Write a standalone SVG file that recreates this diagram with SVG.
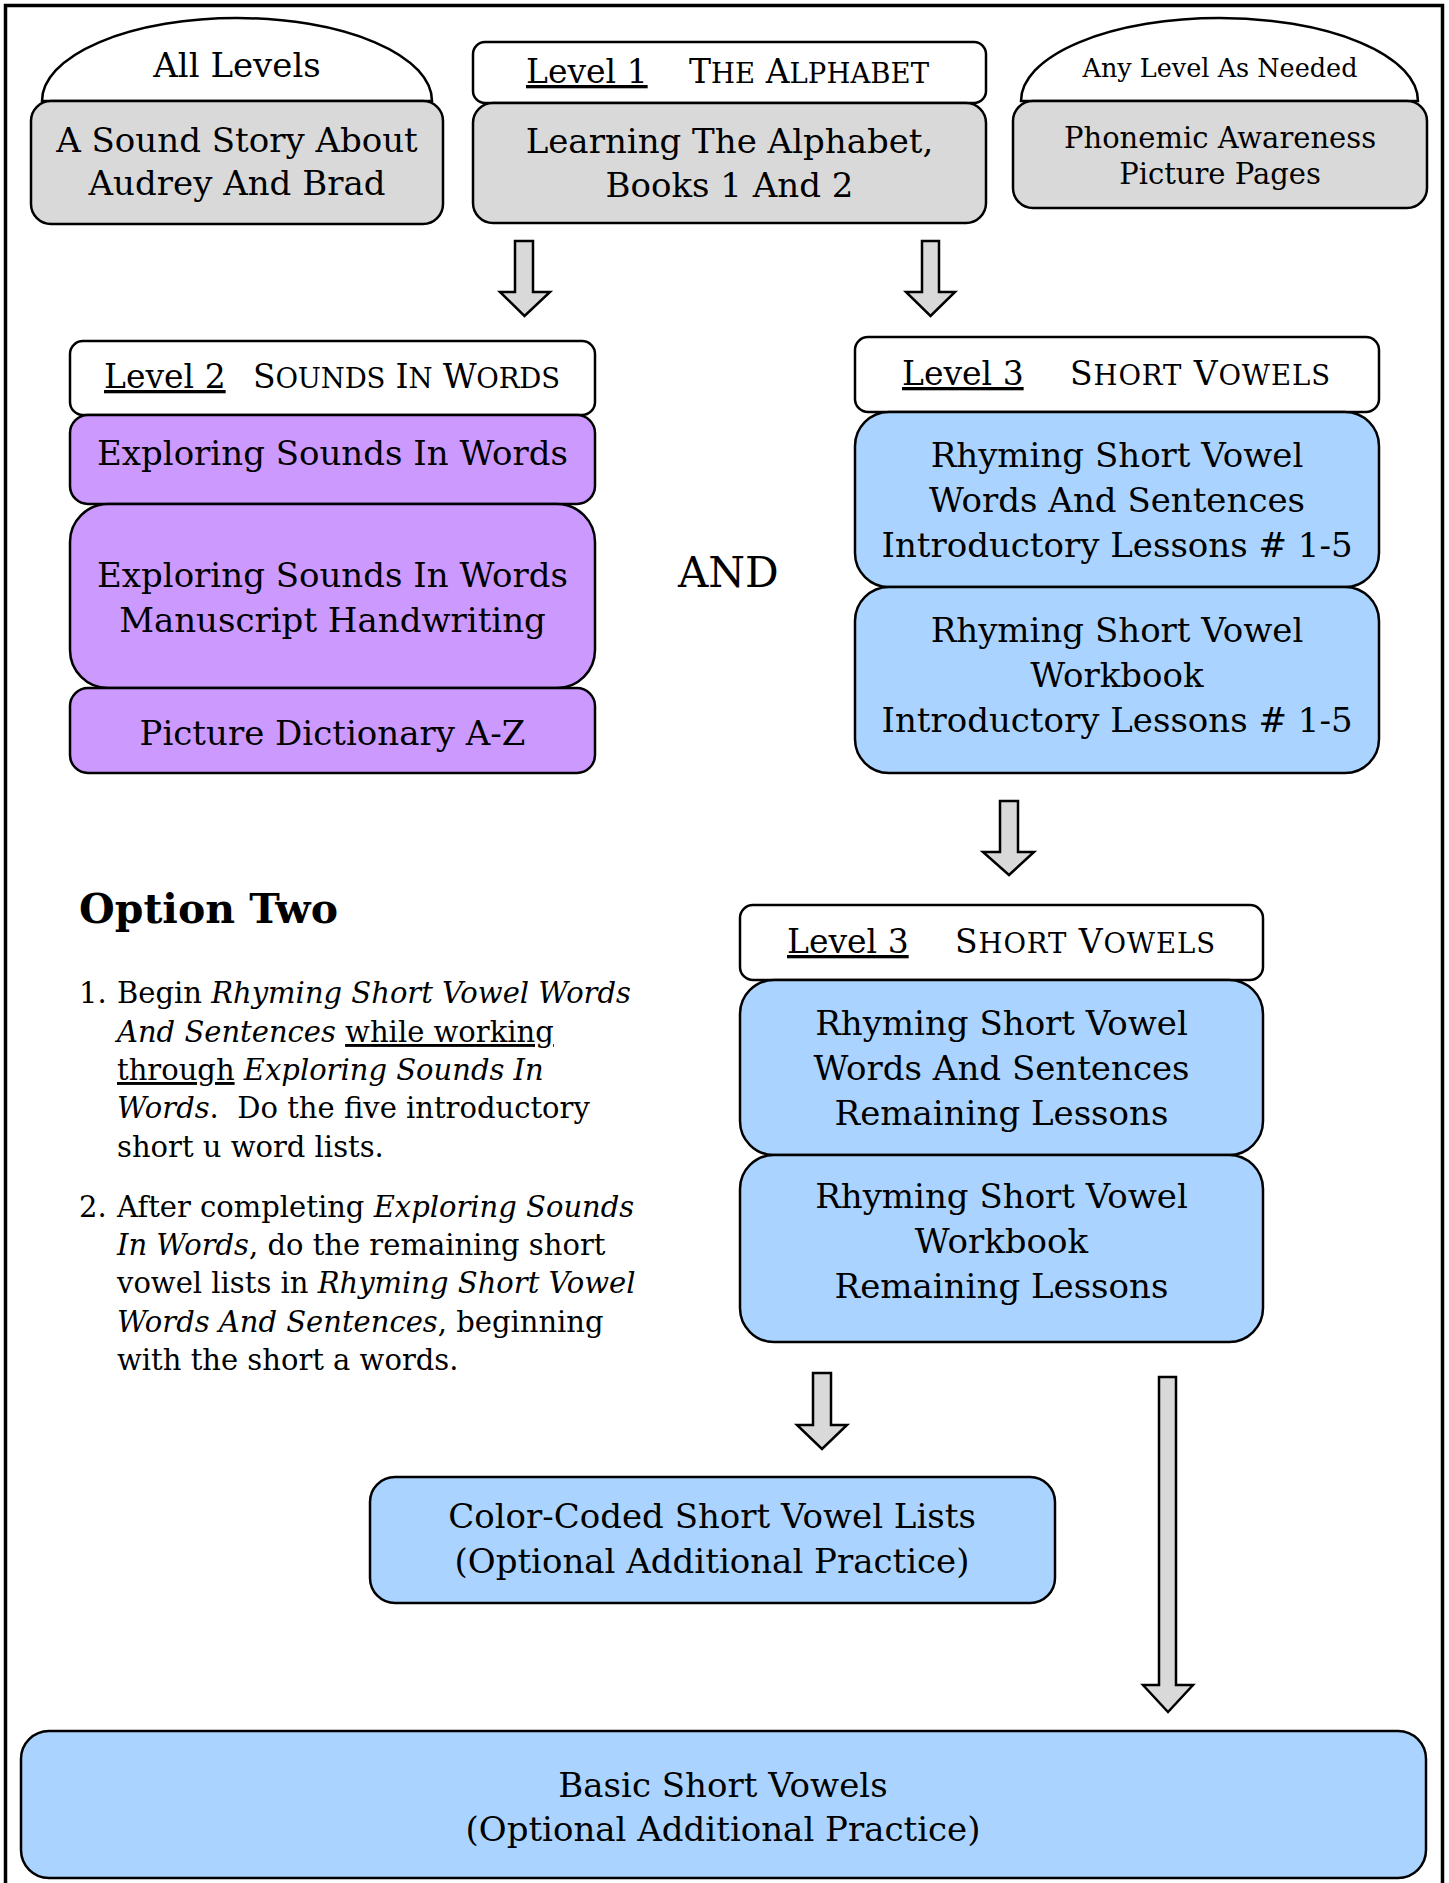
<svg xmlns="http://www.w3.org/2000/svg" width="1449" height="1883" viewBox="0 0 1449 1883">
<style>
.t{font-family:"DejaVu Serif","Liberation Serif",serif;fill:#000;}
.c{text-anchor:middle;}
.b{font-size:34px;}
.hd{font-size:33px;}
.sc{font-size:27.5px;}
.gray{fill:#D9D9D9;stroke:#000;stroke-width:2.5;}
.white{fill:#fff;stroke:#000;stroke-width:2.5;}
.purple{fill:#CC99FF;stroke:#000;stroke-width:2.5;}
.blue{fill:#AAD4FF;stroke:#000;stroke-width:2.5;}
.arrow{fill:#D9D9D9;stroke:#000;stroke-width:2.5;stroke-linejoin:miter;}
.ul{text-decoration:underline;}
.it{font-style:italic;}
.body{font-size:29px;}
</style>
<rect x="0" y="0" width="1449" height="1883" fill="#fff"/>
<rect id="frame" x="5.5" y="5.5" width="1437" height="1900" fill="none" stroke="#000" stroke-width="3.5"/>

<g id="all-levels">
  <path class="white" d="M42,101 A195,83 0 0 1 432,101 Z"/>
  <text class="t c" x="237" y="77" font-size="34">All Levels</text>
  <rect class="gray" x="31" y="101" width="412" height="123" rx="20"/>
  <text class="t c b" x="237" y="152">A Sound Story About</text>
  <text class="t c b" x="237" y="195">Audrey And Brad</text>
</g>

<g id="level1">
  <rect class="white" x="473" y="42" width="513" height="61" rx="12"/>
  <text class="t hd" x="526" y="83"><tspan class="ul">Level 1</tspan></text>
  <text class="t hd" x="689" y="83" textLength="240" lengthAdjust="spacing">T<tspan class="sc">HE</tspan> A<tspan class="sc">LPHABET</tspan></text>
  <rect class="gray" x="473" y="103" width="513" height="120" rx="20"/>
  <text class="t c b" x="729.5" y="153">Learning The Alphabet,</text>
  <text class="t c b" x="729.5" y="197">Books 1 And 2</text>
</g>

<g id="any-level">
  <path class="white" d="M1021,101 A198.5,83 0 0 1 1418,101 Z"/>
  <text class="t c" x="1220" y="77" font-size="25.5">Any Level As Needed</text>
  <rect class="gray" x="1013" y="101" width="414" height="107" rx="20"/>
  <text class="t c" x="1220" y="148" font-size="29">Phonemic Awareness</text>
  <text class="t c" x="1220" y="184" font-size="29">Picture Pages</text>
</g>

<g id="level2">
  <rect class="white" x="70" y="341" width="525" height="74" rx="13"/>
  <text class="t hd" x="104" y="388"><tspan class="ul">Level 2</tspan></text>
  <text class="t hd" x="253" y="388" textLength="307" lengthAdjust="spacing">S<tspan class="sc">OUNDS</tspan> I<tspan class="sc">N</tspan> W<tspan class="sc">ORDS</tspan></text>
  <rect class="purple" x="70" y="415" width="525" height="89" rx="18"/>
  <text class="t c b" x="332.5" y="465">Exploring Sounds In Words</text>
  <rect class="purple" x="70" y="504" width="525" height="184" rx="38"/>
  <text class="t c b" x="332.5" y="587">Exploring Sounds In Words</text>
  <text class="t c b" x="332.5" y="632">Manuscript Handwriting</text>
  <rect class="purple" x="70" y="688" width="525" height="85" rx="18"/>
  <text class="t c b" x="332.5" y="745">Picture Dictionary A-Z</text>
</g>

<g id="and-label">
  <text class="t" x="678" y="587" font-size="42">AND</text>
</g>

<g id="level3-intro">
  <rect class="white" x="855" y="337" width="524" height="75" rx="13"/>
  <text class="t hd" x="902" y="385"><tspan class="ul">Level 3</tspan></text>
  <text class="t hd" x="1070" y="385" textLength="260" lengthAdjust="spacing">S<tspan class="sc">HORT</tspan> V<tspan class="sc">OWELS</tspan></text>
  <rect class="blue" x="855" y="412" width="524" height="175" rx="34"/>
  <text class="t c b" x="1117" y="467">Rhyming Short Vowel</text>
  <text class="t c b" x="1117" y="512">Words And Sentences</text>
  <text class="t c b" x="1117" y="557">Introductory Lessons # 1-5</text>
  <rect class="blue" x="855" y="587" width="524" height="186" rx="34"/>
  <text class="t c b" x="1117" y="642">Rhyming Short Vowel</text>
  <text class="t c b" x="1117" y="687">Workbook</text>
  <text class="t c b" x="1117" y="732">Introductory Lessons # 1-5</text>
</g>

<g id="option-two">
  <text class="t" x="79" y="923" font-size="41" font-weight="bold">Option Two</text>
  <text class="t body" x="79" y="1003">1.</text>
  <text class="t body" x="117" y="1003">Begin <tspan class="it">Rhyming Short Vowel Words</tspan></text>
  <text class="t body" x="117" y="1042"><tspan class="it">And Sentences</tspan> <tspan class="ul">while working</tspan></text>
  <text class="t body" x="117" y="1080"><tspan class="ul">through</tspan> <tspan class="it">Exploring Sounds In</tspan></text>
  <text class="t body" x="117" y="1118" style="white-space:pre"><tspan class="it">Words</tspan>.  Do the five introductory</text>
  <text class="t body" x="117" y="1157">short u word lists.</text>
  <text class="t body" x="79" y="1217">2.</text>
  <text class="t body" x="117" y="1217">After completing <tspan class="it">Exploring Sounds</tspan></text>
  <text class="t body" x="117" y="1255"><tspan class="it">In Words</tspan>, do the remaining short</text>
  <text class="t body" x="117" y="1293">vowel lists in <tspan class="it">Rhyming Short Vowel</tspan></text>
  <text class="t body" x="117" y="1332"><tspan class="it">Words And Sentences</tspan>, beginning</text>
  <text class="t body" x="117" y="1370">with the short a words.</text>
</g>

<g id="level3-remaining">
  <rect class="white" x="740" y="905" width="523" height="75" rx="13"/>
  <text class="t hd" x="787" y="953"><tspan class="ul">Level 3</tspan></text>
  <text class="t hd" x="955" y="953" textLength="260" lengthAdjust="spacing">S<tspan class="sc">HORT</tspan> V<tspan class="sc">OWELS</tspan></text>
  <rect class="blue" x="740" y="980" width="523" height="175" rx="34"/>
  <text class="t c b" x="1001.5" y="1035">Rhyming Short Vowel</text>
  <text class="t c b" x="1001.5" y="1080">Words And Sentences</text>
  <text class="t c b" x="1001.5" y="1125">Remaining Lessons</text>
  <rect class="blue" x="740" y="1155" width="523" height="187" rx="34"/>
  <text class="t c b" x="1001.5" y="1208">Rhyming Short Vowel</text>
  <text class="t c b" x="1001.5" y="1253">Workbook</text>
  <text class="t c b" x="1001.5" y="1298">Remaining Lessons</text>
</g>

<g id="color-coded">
  <rect class="blue" x="370" y="1477" width="685" height="126" rx="25"/>
  <text class="t c b" x="712" y="1528">Color-Coded Short Vowel Lists</text>
  <text class="t c b" x="712" y="1573">(Optional Additional Practice)</text>
</g>

<g id="basic-short-vowels">
  <rect class="blue" x="21" y="1731" width="1405" height="147" rx="28"/>
  <text class="t c b" x="723" y="1797">Basic Short Vowels</text>
  <text class="t c b" x="723" y="1841">(Optional Additional Practice)</text>
</g>

<g id="connectors">
  <polygon class="arrow" points="515,241 533,241 533,292 550,292 524.5,316 500,292 515,292"/>
  <polygon class="arrow" points="922,241 939,241 939,292 955,292 930.5,316 906,292 922,292"/>
  <polygon class="arrow" points="1000,801 1018,801 1018,852 1034,852 1009,875 983,852 1000,852"/>
  <polygon class="arrow" points="813,1373 831,1373 831,1425 847,1425 822,1449 797,1425 813,1425"/>
  <polygon class="arrow" points="1159,1377 1176,1377 1176,1685 1193,1685 1168,1712 1143,1685 1159,1685"/>
</g>
</svg>
